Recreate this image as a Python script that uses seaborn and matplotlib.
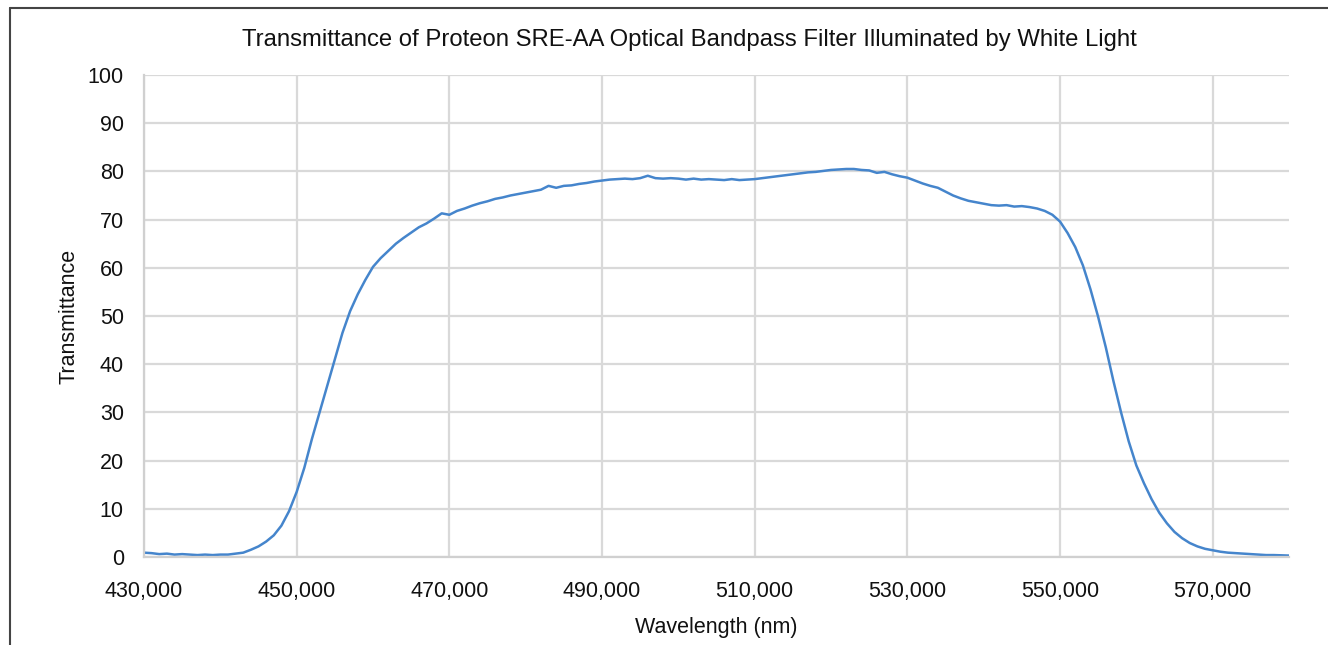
import numpy as np
import pandas as pd
import matplotlib
matplotlib.use("Agg")
import matplotlib.pyplot as plt
from matplotlib.lines import Line2D
import seaborn as sns

# ---- data ----
wavelength = list(range(430, 581))
transmittance = [
    0.9, 0.8, 0.6, 0.7, 0.5, 0.6, 0.5, 0.4, 0.5, 0.4,            # 430-439
    0.5, 0.5, 0.7, 0.9, 1.5, 2.2, 3.2, 4.5, 6.5, 9.5,            # 440-449
    13.5, 18.5, 24.5, 30.0, 35.5, 41.0, 46.5, 51.0, 54.5, 57.5,  # 450-459
    60.2, 62.0, 63.5, 65.0, 66.2, 67.3, 68.4, 69.2, 70.2, 71.3,  # 460-469
    71.0, 71.8, 72.3, 72.9, 73.4, 73.8, 74.3, 74.6, 75.0, 75.3,  # 470-479
    75.6, 75.9, 76.2, 77.0, 76.6, 77.0, 77.1, 77.4, 77.6, 77.9,  # 480-489
    78.1, 78.3, 78.4, 78.5, 78.4, 78.6, 79.1, 78.6, 78.5, 78.6,  # 490-499
    78.5, 78.3, 78.5, 78.3, 78.4, 78.3, 78.2, 78.4, 78.2, 78.3,  # 500-509
    78.4, 78.6, 78.8, 79.0, 79.2, 79.4, 79.6, 79.8, 79.9, 80.1,  # 510-519
    80.3, 80.4, 80.5, 80.5, 80.3, 80.2, 79.7, 79.9, 79.4, 79.0,  # 520-529
    78.7, 78.1, 77.5, 77.0, 76.6, 75.8, 75.0, 74.4, 73.9, 73.6,  # 530-539
    73.3, 73.0, 72.9, 73.0, 72.7, 72.8, 72.6, 72.3, 71.8, 71.0,  # 540-549
    69.6, 67.2, 64.3, 60.5, 55.5, 49.8, 43.5, 36.5, 30.0, 24.0,  # 550-559
    19.0, 15.3, 12.0, 9.2, 7.0, 5.2, 3.9, 2.9, 2.2, 1.7,         # 560-569
    1.4, 1.1, 0.9, 0.8, 0.7, 0.6, 0.5, 0.4, 0.4, 0.35,           # 570-579
    0.3,                                                          # 580
]
x_ticks = [430, 450, 470, 490, 510, 530, 550, 570]
x_tick_labels = ["430,000", "450,000", "470,000", "490,000",
                 "510,000", "530,000", "550,000", "570,000"]
y_ticks = [0, 10, 20, 30, 40, 50, 60, 70, 80, 90, 100]

title = "Transmittance of Proteon SRE-AA Optical Bandpass Filter Illuminated by White Light"
x_label = "Wavelength (nm)"
y_label = "Transmittance"

df = pd.DataFrame({"wavelength": wavelength, "transmittance": transmittance})

sns.set_theme(style="whitegrid")
plt.rcParams["font.family"] = ["Liberation Sans", "DejaVu Sans"]

fig = plt.figure(figsize=(13.28, 6.45), dpi=100)
ax = fig.add_axes([144 / 1328, 1 - 557 / 645, (1289 - 144) / 1328, (557 - 75) / 645])

sns.lineplot(data=df, x="wavelength", y="transmittance", ax=ax,
             color="#4585cc", linewidth=1.8)

ax.set_xlim(430, 580)
ax.set_ylim(0, 100)
ax.set_xticks(x_ticks)
ax.set_xticklabels(x_tick_labels)
ax.set_yticks(y_ticks)
ax.tick_params(axis="both", length=0, labelsize=15.5, colors="#111111")
ax.tick_params(axis="x", pad=17)
ax.tick_params(axis="y", pad=14.5)

ax.grid(True, color="#d9d9d9", linewidth=1.6)
ax.set_facecolor("white")
for side in ["top", "right"]:
    ax.spines[side].set_visible(False)
for side in ["left", "bottom"]:
    ax.spines[side].set_color("#d0d0d0")
    ax.spines[side].set_linewidth(1.6)

ax.set_xlabel(x_label, fontsize=15.5, color="#111111", labelpad=11)
ax.set_ylabel(y_label, fontsize=15.5, color="#111111", labelpad=6)

fig.text(689 / 1328, 1 - 46 / 645, title, ha="center", va="baseline",
         fontsize=17.2, color="#111111")

# outer frame (left and top edges)
fig.add_artist(Line2D([10 / 1328, 10 / 1328], [0, 1 - 8 / 645],
                      transform=fig.transFigure, color="#444444", linewidth=1.5))
fig.add_artist(Line2D([10 / 1328, 1], [1 - 8 / 645, 1 - 8 / 645],
                      transform=fig.transFigure, color="#444444", linewidth=1.5))

fig.savefig("out.png", dpi=100)
